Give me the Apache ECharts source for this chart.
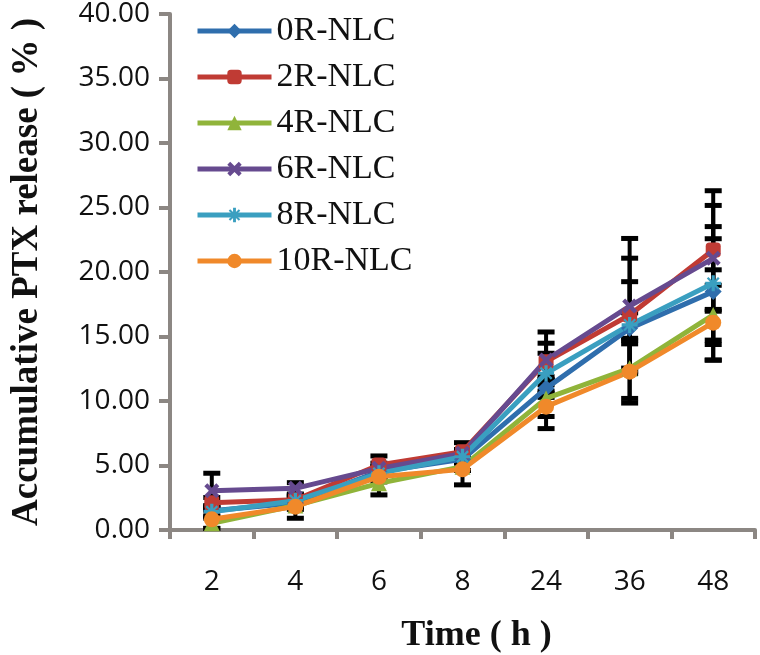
<!DOCTYPE html>
<html>
<head>
<meta charset="utf-8">
<script src="https://cdn.jsdelivr.net/npm/echarts@6/dist/echarts.min.js"></script>
<style>
html,body{margin:0;padding:0;background:#fff;}
#chart{width:760px;height:655px;}
</style>
</head>
<body>
<div id="chart"></div>
<script>
const categories = ['2', '4', '6', '8', '24', '36', '48'];
const yTicks = [0, 5, 10, 15, 20, 25, 30, 35, 40];
const seriesNames = ['0R-NLC', '2R-NLC', '4R-NLC', '6R-NLC', '8R-NLC', '10R-NLC'];

const s0R  = [1.50, 2.10, 4.52, 5.48, 10.98, 15.63, 18.48];
const s2R  = [2.12, 2.35, 5.04, 6.07, 13.05, 16.67, 21.70];
const s4R  = [0.52, 1.90, 3.62, 4.91, 10.20, 12.53, 16.67];
const s6R  = [3.05, 3.23, 4.78, 5.94, 13.18, 17.36, 21.06];
const s8R  = [1.42, 2.27, 4.39, 5.68, 12.15, 15.90, 19.12];
const s10R = [0.83, 1.81, 4.13, 4.70, 9.56, 12.27, 16.07];

const e0R  = [0.40, 0.30, 0.40, 0.30, 0.70, 1.20, 4.10];
const e2R  = [0.40, 0.30, 0.70, 0.70, 2.30, 4.40, 4.60];
const e4R  = [0.40, 0.30, 0.90, 0.30, 1.40, 2.33, 3.50];
const e6R  = [1.35, 0.44, 0.40, 0.30, 1.30, 5.24, 4.10];
const e8R  = [0.40, 0.30, 0.40, 0.30, 1.55, 3.35, 4.40];
const e10R = [0.70, 0.90, 0.40, 1.20, 1.70, 2.43, 2.90];

const values = [s0R, s2R, s4R, s6R, s8R, s10R];
const errors = [e0R, e2R, e4R, e6R, e8R, e10R];
const colors = ['#2f6ead', '#c03b34', '#90b43a', '#664a8f', '#3a9fc0', '#f0892a'];
const xPath = 'path://M2,0 L5,3 L8,0 L10,2 L7,5 L10,8 L8,10 L5,7 L2,10 L0,8 L3,5 L0,2 Z';
const starPath = 'path://M4,0 L6,0 L6,3 L8,1 L9,2 L7,4 L10,4 L10,6 L7,6 L9,8 L8,9 L6,7 L6,10 L4,10 L4,7 L2,9 L1,8 L3,6 L0,6 L0,4 L3,4 L1,2 L2,1 L4,3 Z';
const symbols = ['diamond', 'roundRect', 'triangle', xPath, starPath, 'circle'];
const sizes = [17, 15, 16, 15, 16, 16];

const chart = echarts.init(document.getElementById('chart'), null, {renderer: 'canvas'});

const series = [];
// error bars
values.forEach((vals, i) => {
  series.push({
    type: 'custom',
    name: seriesNames[i] + ' err',
    z: 1,
    silent: true,
    data: vals.map((v, k) => [k, v - errors[i][k], v + errors[i][k]]),
    renderItem: function (params, api) {
      const x = api.value(0);
      const lo = api.coord([x, api.value(1)]);
      const hi = api.coord([x, api.value(2)]);
      const hw = 8.5;
      const st = {stroke: '#000', lineWidth: 4};
      const cap = {stroke: '#000', lineWidth: 5};
      return {
        type: 'group',
        children: [
          {type: 'line', shape: {x1: lo[0], y1: lo[1], x2: hi[0], y2: hi[1]}, style: st},
          {type: 'line', shape: {x1: hi[0] - hw, y1: hi[1], x2: hi[0] + hw, y2: hi[1]}, style: cap},
          {type: 'line', shape: {x1: lo[0] - hw, y1: lo[1], x2: lo[0] + hw, y2: lo[1]}, style: cap}
        ]
      };
    }
  });
});
values.forEach((vals, i) => {
  series.push({
    type: 'line',
    name: seriesNames[i],
    data: vals,
    z: 3,
    symbol: symbols[i],
    symbolSize: sizes[i],
    color: colors[i],
    lineStyle: {width: 5, color: colors[i]},
    itemStyle: {color: colors[i]}
  });
});

chart.setOption({
  animation: false,
  backgroundColor: '#fff',
  grid: {left: 170, right: 5, top: 14, bottom: 125, containLabel: false, outerBoundsMode: 'none'},
  legend: {
    data: seriesNames,
    orient: 'vertical',
    left: 190,
    top: 9,
    itemWidth: 74,
    itemHeight: 18,
    itemGap: 12,
    lineStyle: {width: 5},
    textStyle: {fontFamily: 'Liberation Serif', fontSize: 34, color: '#111', lineHeight: 34}
  },
  xAxis: {
    type: 'category',
    data: categories,
    boundaryGap: true,
    axisLine: {lineStyle: {color: '#8c8783', width: 4}},
    axisTick: {show: true, alignWithLabel: false, length: 9, lineStyle: {color: '#8c8783', width: 4}},
    axisLabel: {fontFamily: 'Open Sans', fontSize: 28, color: '#111', margin: 38},
    name: 'Time ( h )',
    nameLocation: 'middle',
    nameGap: 88,
    nameTextStyle: {fontFamily: 'Liberation Serif', fontWeight: 'bold', fontSize: 36, color: '#111', padding: [0, 0, 0, 28]}
  },
  yAxis: {
    type: 'value',
    min: 0,
    max: 40,
    interval: 5,
    splitLine: {show: false},
    axisLine: {show: true, lineStyle: {color: '#8c8783', width: 4}},
    axisTick: {show: true, length: 11, lineStyle: {color: '#8c8783', width: 4}},
    axisLabel: {fontFamily: 'Open Sans', fontSize: 28, color: '#111', margin: 20,
      formatter: v => yTicks.indexOf(v) >= 0 ? v.toFixed(2) : ''},
    name: 'Accumulative PTX release ( % )',
    nameLocation: 'middle',
    nameRotate: 90,
    nameGap: 124,
    nameTextStyle: {fontFamily: 'Liberation Serif', fontWeight: 'bold', fontSize: 37, color: '#111'}
  },
  series: series
});
</script>
</body>
</html>
